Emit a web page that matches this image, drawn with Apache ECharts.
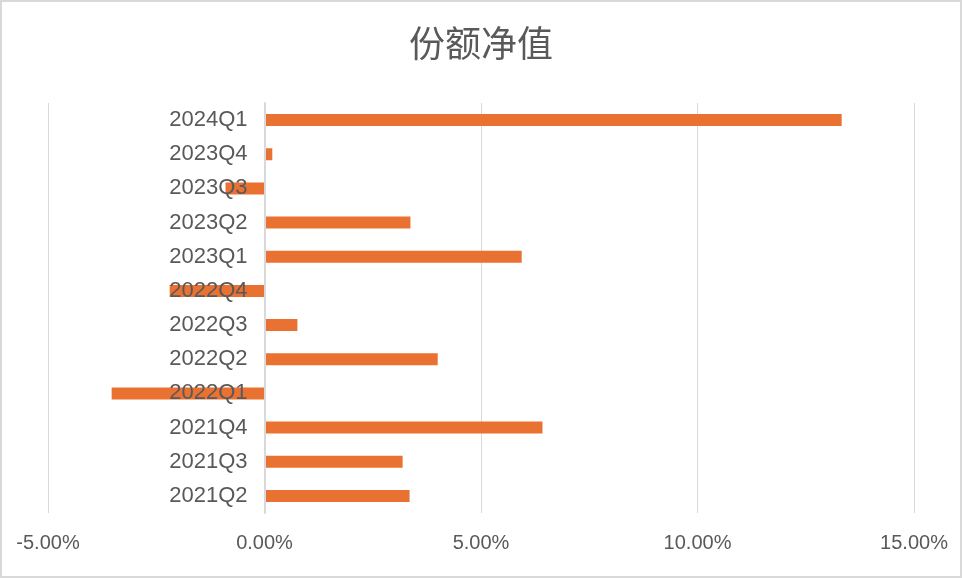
<!DOCTYPE html>
<html>
<head>
<meta charset="utf-8">
<script src="https://cdn.jsdelivr.net/npm/echarts@6/dist/echarts.min.js"></script>
<style>
html,body{margin:0;padding:0;background:#fff;}
#wrap{width:962px;height:578px;box-sizing:border-box;border:2px solid #d9d9d9;position:relative;}
#chart{position:absolute;left:-2px;top:-2px;width:962px;height:578px;}
</style>
</head>
<body>
<div id="wrap"><div id="chart"></div></div>
<script>
const titleText = '份额净值';
const categories = ['2021Q2','2021Q3','2021Q4','2022Q1','2022Q2','2022Q3','2022Q4','2023Q1','2023Q2','2023Q3','2023Q4','2024Q1'];
const values = [3.35, 3.19, 6.42, -3.53, 4.00, 0.76, -2.19, 5.94, 3.37, -0.90, 0.18, 13.33];
const xTicks = [-5, 0, 5, 10, 15];

const gridLeft = 48, gridRight = 48, chartWidth = 962;
const plotW = chartWidth - gridLeft - gridRight;
const zeroOffset = plotW * (0 - xTicks[0]) / (xTicks[xTicks.length - 1] - xTicks[0]);

const chart = echarts.init(document.getElementById('chart'));
chart.setOption({
  animation: false,
  backgroundColor: 'transparent',
  title: {
    text: titleText,
    left: 'center',
    top: 20,
    textStyle: {color: '#595959', fontSize: 36, fontWeight: 'normal', fontFamily: 'Noto Sans CJK SC'}
  },
  grid: {left: gridLeft, right: gridRight, top: 103, bottom: 65, containLabel: false, outerBoundsMode: 'none'},
  xAxis: {
    type: 'value',
    min: xTicks[0],
    max: xTicks[xTicks.length - 1],
    interval: 5,
    axisLine: {show: false},
    axisTick: {show: false},
    splitLine: {show: true, lineStyle: {color: '#d9d9d9', width: 1}},
    axisLabel: {
      color: '#595959', fontSize: 20, margin: 20,
      fontFamily: 'Liberation Sans',
      formatter: v => v.toFixed(2) + '%'
    }
  },
  yAxis: {
    type: 'category',
    data: categories,
    position: 'left',
    offset: -zeroOffset,
    z: 5,
    axisLine: {show: true, onZero: false, lineStyle: {color: '#d9d9d9', width: 2}},
    axisTick: {show: false},
    splitLine: {show: false},
    axisLabel: {color: '#595959', fontSize: 22, margin: 17, fontFamily: 'Liberation Sans'}
  },
  series: [{
    type: 'bar',
    data: values,
    barWidth: 12,
    itemStyle: {color: '#E97132'},
    z: 1
  }]
});
</script>
</body>
</html>
